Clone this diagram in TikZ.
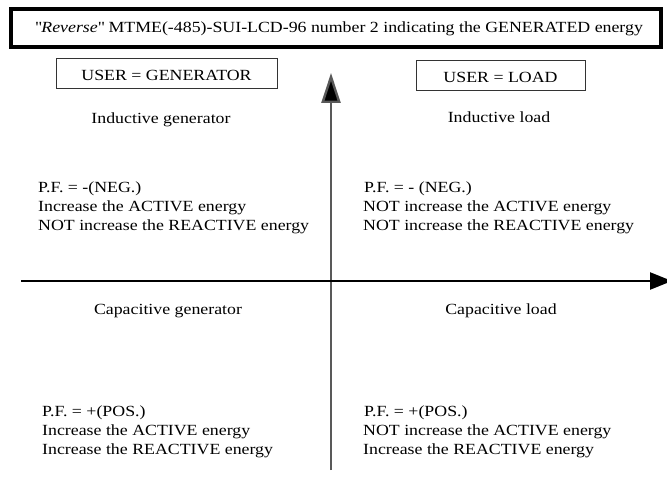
\documentclass[tikz,border=0pt]{standalone}
\usepackage{fontspec}
\setmainfont{Liberation Serif}[FakeStretch=1.15,ItalicFont={Liberation Serif Italic},ItalicFeatures={FakeStretch=1.15}]
\usetikzlibrary{arrows.meta}
\begin{document}
\begin{tikzpicture}[x=1pt,y=-1pt,
  every node/.style={font=\fontsize{15.5}{19}\selectfont,inner sep=0pt},
  userbox/.style={draw=black!80,line width=1pt},
  heading/.style={anchor=base},
  line/.style={anchor=base west},
  axis/.style={line width=2.4pt}]
\useasboundingbox (0,0) rectangle (667,486);
% title banner
\draw[line width=4pt] (11,9) rectangle (661,47);
\node[anchor=base] (title) at (339,33)
  {\textquotedbl\textit{Reverse}\textquotedbl{} MTME(-485)-SUI-LCD-96 number 2 indicating the GENERATED energy};
% user boxes
\draw[userbox] (56,59) rectangle (277,89);
\node (gen) at (166.5,75) {USER = GENERATOR};
\draw[userbox] (416,61) rectangle (585,91);
\node (load) at (500.5,77) {USER = LOAD};
% axes
\coordinate (vbot) at (331,470);
\coordinate (vtop) at (331,73);
\coordinate (hleft) at (21,281);
\coordinate (hright) at (672,281);
\draw[axis,draw=black!65,-{Triangle[length=30pt,width=19pt,fill=black]}] (vbot) -- (vtop);
\draw[axis,-{Triangle[length=22pt,width=17pt]}] (hleft) -- (hright);
% quadrant headings
\node[heading] (ig) at (161,124) {Inductive generator};
\node[heading] (il) at (499,123) {Inductive load};
\node[heading] (cg) at (168,315) {Capacitive generator};
\node[heading] (cl) at (501,315) {Capacitive load};
% upper-left quadrant
\node[line] (q2a) at (38,193) {P.F. = -(NEG.)};
\node[line] (q2b) at (38,212) {Increase the ACTIVE energy};
\node[line] (q2c) at (38,231) {NOT increase the REACTIVE energy};
% upper-right quadrant
\node[line] (q1a) at (364,193) {P.F. = - (NEG.)};
\node[line] (q1b) at (363,212) {NOT increase the ACTIVE energy};
\node[line] (q1c) at (363,231) {NOT increase the REACTIVE energy};
% lower-left quadrant
\node[line] (q3a) at (42,417) {P.F. = +(POS.)};
\node[line] (q3b) at (42,435.5) {Increase the ACTIVE energy};
\node[line] (q3c) at (42,454) {Increase the REACTIVE energy};
% lower-right quadrant
\node[line] (q4a) at (364,417) {P.F. = +(POS.)};
\node[line] (q4b) at (363,435.5) {NOT increase the ACTIVE energy};
\node[line] (q4c) at (363,454) {Increase the REACTIVE energy};
\end{tikzpicture}
\end{document}
